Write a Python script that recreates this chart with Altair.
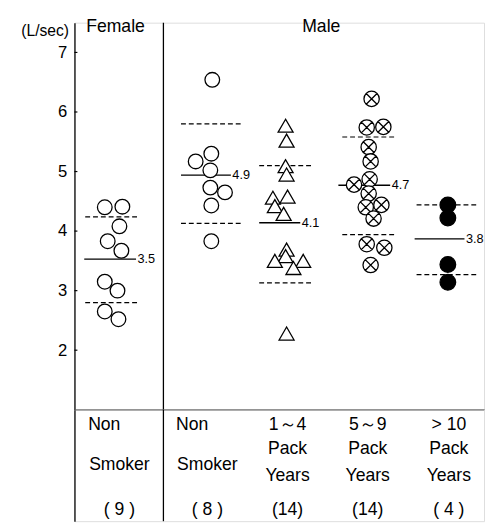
import altair as alt
import pandas as pd

# ---------------- data ----------------
group_names = ["Female Non Smoker", "Male Non Smoker", "Male 1~4 Pack Years",
               "Male 5~9 Pack Years", "Male >10 Pack Years"]
group_markers = ["open", "open", "triangle", "crossed", "filled"]

female_ns = [4.40, 4.41, 4.08, 3.83, 3.67, 3.15, 3.00, 2.65, 2.52]
male_ns = [6.54, 5.30, 5.17, 5.02, 4.73, 4.65, 4.43, 3.83]
male_1_4 = [5.77, 5.52, 5.09, 4.95, 4.58, 4.56, 4.42, 4.29, 3.69, 3.58, 3.50, 3.50, 3.38, 2.28]
male_5_9 = [6.22, 5.74, 5.75, 5.41, 5.17, 4.87, 4.78, 4.63, 4.40, 4.44, 4.21, 3.78, 3.72, 3.43]
male_10 = [4.44, 4.22, 3.44, 3.14]

# horizontal scatter of each point around its group centre (as drawn)
female_ns_jit = [-0.8, 1.0, 0.7, -0.5, 0.9, -0.8, 0.5, -0.8, 0.6]
male_ns_jit = [0.1, 0.0, -1.6, -0.1, -0.1, 1.4, 0.0, 0.0]
male_1_4_jit = [-0.1, 0.0, -0.1, 0.0, 0.1, -1.4, -1.2, -0.3, 0.0, -0.1, -1.2, 1.7, 0.7, 0.0]
male_5_9_jit = [0.1, -0.4, 1.3, -0.2, 0.0, -0.1, -1.7, -0.2, -0.5, 1.1, 0.3, -0.4, 1.4, 0.0]
male_10_jit = [0.0, 0.0, 0.0, 0.0]

means = [3.53, 4.94, 4.14, 4.77, 3.87]
mean_labels = ["3.5", "4.9", "4.1", "4.7", "3.8"]
sd_upper = [4.24, 5.80, 5.10, 5.58, 4.44]
sd_lower = [2.80, 4.13, 3.13, 3.94, 3.27]

y_ticks = [2, 3, 4, 5, 6, 7]
y_title = "(L/sec)"
sex_labels = ["Female", "Male"]

table_line1 = ["Non", "Non", "1～4", "5～9", "> 10"]
table_line2 = ["Smoker", "Smoker", "Pack", "Pack", "Pack"]
table_line3 = ["", "", "Years", "Years", "Years"]
table_counts = ["( 9 )", "( 8 )", "(14)", "(14)", "( 4 )"]

# ---------------- layout ----------------
FONT = "Liberation Sans"
NARROW = "Liberation Sans Narrow, Liberation Sans"
X_DOMAIN = [0, 41.9]
group_x = [3.9, 14.0, 21.7, 30.3, 38.2]
mean_x0 = [1.0, 10.9, 18.9, 27.0, 34.8]
mean_x1 = [6.3, 16.0, 23.1, 32.3, 39.9]
sd_x0 = [1.1, 10.9, 18.9, 27.4, 35.0]
sd_x1 = [6.6, 17.1, 24.2, 32.9, 41.1]
divider_x = 9.1
sex_x = [4.2, 25.25]
sex_y = 7.42
table_x = [4.6, 13.6, 21.8, 30.0, 38.3]
rows = {"line1": 0.7, "pack": 1.75, "mid": 2.5, "years": 3.0, "count": 4.5}

CROSSED = ("M1,0A1,1,0,1,1,-1,0A1,1,0,1,1,1,0Z"
           "M-0.7071,-0.7071L0.7071,0.7071M-0.7071,0.7071L0.7071,-0.7071")

# ---------------- tables ----------------
values = [female_ns, male_ns, male_1_4, male_5_9, male_10]
jits = [female_ns_jit, male_ns_jit, male_1_4_jit, male_5_9_jit, male_10_jit]
pts_rows = []
for g, vals, jit, cx, mk in zip(group_names, values, jits, group_x, group_markers):
    for v, j in zip(vals, jit):
        pts_rows.append({"group": g, "x": cx + j, "y": v, "marker": mk})
pts = pd.DataFrame(pts_rows)

mean_df = pd.DataFrame({"x": mean_x0, "x2": mean_x1, "y": means,
                        "label": mean_labels,
                        "lx": [v + 0.15 for v in mean_x1]})
sd_df = pd.DataFrame({"x": sd_x0 + sd_x0, "x2": sd_x1 + sd_x1,
                      "y": sd_upper + sd_lower})
tick_df = pd.DataFrame({"y": y_ticks, "x": [0.0] * len(y_ticks),
                        "x2": [0.3] * len(y_ticks)})
div_df = pd.DataFrame({"x": [divider_x]})
sex_df = pd.DataFrame({"x": sex_x, "y": [sex_y, sex_y], "t": sex_labels})

center_rows, left_rows = [], []
for i in range(5):
    cx = table_x[i]
    if table_line3[i] == "":
        left_rows.append({"x": cx - 3.2, "row": rows["line1"], "t": table_line1[i]})
        center_rows.append({"x": cx, "row": rows["mid"], "t": table_line2[i]})
    else:
        center_rows.append({"x": cx, "row": rows["line1"], "t": table_line1[i]})
        center_rows.append({"x": cx, "row": rows["pack"], "t": table_line2[i]})
        center_rows.append({"x": cx, "row": rows["years"], "t": table_line3[i]})
    center_rows.append({"x": cx, "row": rows["count"], "t": table_counts[i]})
tc_df = pd.DataFrame(center_rows)
tl_df = pd.DataFrame(left_rows)

# ---------------- scales / axes ----------------
xs = alt.Scale(domain=X_DOMAIN, nice=False, zero=False)
ys = alt.Scale(domain=[1.0, 7.5], nice=False, zero=False)
xaxis = alt.Axis(labels=False, ticks=False, title=None, grid=False,
                 domainColor="black", domainWidth=1.3)
yaxis = alt.Axis(values=y_ticks, format="d", title=y_title, titleAngle=0,
                 titleAlign="right", titleBaseline="middle", titleX=-6, titleY=8,
                 titleFont=FONT, titleFontSize=16, titleFontWeight="normal",
                 titleColor="black", ticks=False, labelPadding=8, grid=False,
                 labelFont=FONT, labelFontSize=17, labelColor="black",
                 domainColor="black", domainWidth=1.3)

X = lambda f="x": alt.X(f + ":Q", scale=xs, axis=xaxis)
Y = lambda f="y": alt.Y(f + ":Q", scale=ys, axis=yaxis)

divider = alt.Chart(div_df).mark_rule(color="black", strokeWidth=1.3).encode(x=X())
ticks = alt.Chart(tick_df).mark_rule(color="black", strokeWidth=1.2).encode(
    x=X(), x2="x2:Q", y=Y())
sd_lines = alt.Chart(sd_df).mark_rule(color="black", strokeWidth=1.2,
                                      strokeDash=[5, 3]).encode(x=X(), x2="x2:Q", y=Y())
mean_lines = alt.Chart(mean_df).mark_rule(color="black", strokeWidth=1.3).encode(
    x=X(), x2="x2:Q", y=Y())
mean_text = alt.Chart(mean_df).mark_text(align="left", baseline="middle", font=NARROW,
                                         fontSize=13, color="black").encode(
    x=X("lx"), y=Y(), text="label:N")

mk_dom = ["open", "triangle", "crossed", "filled"]
points = alt.Chart(pts).mark_point(filled=False, stroke="black", strokeWidth=1.3,
                                   opacity=1, fillOpacity=1).encode(
    x=X(), y=Y(),
    shape=alt.Shape("marker:N", scale=alt.Scale(domain=mk_dom,
                    range=["circle", "triangle-up", CROSSED, "circle"]), legend=None),
    fill=alt.Fill("marker:N", scale=alt.Scale(domain=mk_dom,
                  range=["white", "white", "white", "black"]), legend=None),
    size=alt.Size("marker:N", scale=alt.Scale(domain=mk_dom,
                  range=[225, 256, 210, 240]), legend=None),
)
sex_text = alt.Chart(sex_df).mark_text(font=FONT, fontSize=18, color="black",
                                       baseline="middle").encode(
    x=X(), y=Y(), text="t:N")

top = alt.layer(divider, ticks, sd_lines, mean_lines, mean_text, points, sex_text
                ).properties(width=419, height=396)

rs = alt.Scale(domain=[0, 5], reverse=True, nice=False, zero=False)
raxis = alt.Axis(labels=False, ticks=False, title=None, grid=False,
                 domainColor="black", domainWidth=1.3)
bx = alt.X("x:Q", scale=xs, axis=None)
by = alt.Y("row:Q", scale=rs, axis=raxis)
bdiv = alt.Chart(div_df).mark_rule(color="black", strokeWidth=1.3).encode(x=bx)
btc = alt.Chart(tc_df).mark_text(font=FONT, fontSize=18, color="black",
                                 baseline="middle", align="center").encode(
    x=bx, y=by, text="t:N")
btl = alt.Chart(tl_df).mark_text(font=FONT, fontSize=18, color="black",
                                 baseline="middle", align="left").encode(
    x=bx, y=by, text="t:N")
bottom = alt.layer(bdiv, btc, btl).properties(width=419, height=114)

chart = alt.vconcat(top, bottom, spacing=0, bounds="flush").properties(
    padding={"left": 12, "top": 4, "right": 0, "bottom": 0}
).configure_view(stroke=None).configure(background="white")

chart.save("out.html", embed_options={"renderer": "svg", "actions": False})
